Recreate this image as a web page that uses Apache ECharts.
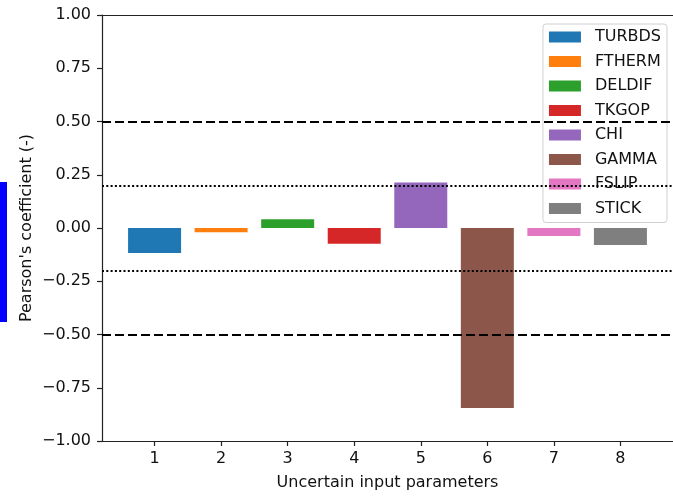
<!DOCTYPE html>
<html><head><meta charset="utf-8">
<script src="https://cdn.jsdelivr.net/npm/echarts@6/dist/echarts.min.js"></script>
<style>html,body{margin:0;padding:0;background:#fff}#c{width:673px;height:496px}</style>
</head><body><div id="c"></div>
<script>
const names = ['TURBDS','FTHERM','DELDIF','TKGOP','CHI','GAMMA','FSLIP','STICK'];
const positions = [1,2,3,4,5,6,7,8];
const values = [-0.117,-0.020,0.041,-0.074,0.214,-0.845,-0.037,-0.080];
const colors = ['#1f77b4','#ff7f0e','#2ca02c','#d62728','#9467bd','#8c564b','#e377c2','#7f7f7f'];
const xTicks = [1,2,3,4,5,6,7,8];
const yTicks = [-1,-0.75,-0.5,-0.25,0,0.25,0.5,0.75,1];
const dashedLevels = [0.5,-0.5];
const dottedLevels = [0.2,-0.2];

const font = 'DejaVu Sans';
const fs = 16;
const txt = '#111';
const chart = echarts.init(document.getElementById('c'), null, {renderer:'canvas'});
const fmt = v => v.toFixed(2).replace('-', '\u2212');

const series = names.map((n,i)=>({
  name:n, type:'bar', barWidth:53, barGap:'-100%',
  itemStyle:{color:colors[i]},
  data:[[positions[i], values[i]]],
  z:2
}));
series.push({
  type:'line', data:[], silent:true, z:3,
  markLine:{
    silent:true, symbol:'none', label:{show:false},
    data:[
      ...dashedLevels.map(v=>({yAxis:v, lineStyle:{type:[9,4], width:2, color:'#000'}})),
      ...dottedLevels.map(v=>({yAxis:v, lineStyle:{type:[2,2.3], width:2, color:'#000'}}))
    ]
  }
});

chart.setOption({
  animation:false,
  grid:{left:102, right:0, top:15, bottom:55},
  legend:{
    orient:'vertical', right:6, top:24,
    itemWidth:32, itemHeight:11, itemGap:8.5,
    icon:'rect',
    backgroundColor:'rgba(255,255,255,0.8)',
    borderColor:'#d0d0d0', borderWidth:1, borderRadius:3,
    padding:[5,6,6,6],
    textStyle:{fontFamily:font, fontSize:fs, color:txt, lineHeight:16, padding:[0,0,0,9]},
    data:names
  },
  xAxis:[{
    type:'value', min:0.21, max:8.79,
    name:'Uncertain input parameters', nameLocation:'middle', nameGap:34,
    nameMoveOverlap:false,
    nameTextStyle:{fontFamily:font, fontSize:fs, color:txt},
    splitLine:{show:false},
    axisLine:{show:true, onZero:false, lineStyle:{color:'#222', width:1.2}},
    axisTick:{show:true, length:5, lineStyle:{color:'#222', width:1.2}, customValues:xTicks},
    axisLabel:{fontFamily:font, fontSize:fs, color:txt, margin:10, customValues:xTicks}
  },{
    type:'value', min:0.21, max:8.79, position:'top',
    splitLine:{show:false},
    axisLine:{show:true, onZero:false, lineStyle:{color:'#222', width:1.2}},
    axisTick:{show:false}, axisLabel:{show:false}
  }],
  yAxis:{
    type:'value', min:-1, max:1, interval:0.25,
    name:"Pearson's coefficient (-)", nameLocation:'middle', nameGap:67, nameRotate:90,
    nameMoveOverlap:false,
    nameTextStyle:{fontFamily:font, fontSize:fs, color:txt},
    splitLine:{show:false},
    axisLine:{show:true, onZero:false, lineStyle:{color:'#222', width:1.2}},
    axisTick:{show:true, length:5, lineStyle:{color:'#222', width:1.2}},
    axisLabel:{fontFamily:font, fontSize:fs, color:txt, margin:11, formatter:fmt, customValues:yTicks}
  },
  graphic:[{type:'rect', left:0, top:182, shape:{width:7, height:140}, style:{fill:'#0000ff'}, silent:true}],
  series:series
});
</script></body></html>
